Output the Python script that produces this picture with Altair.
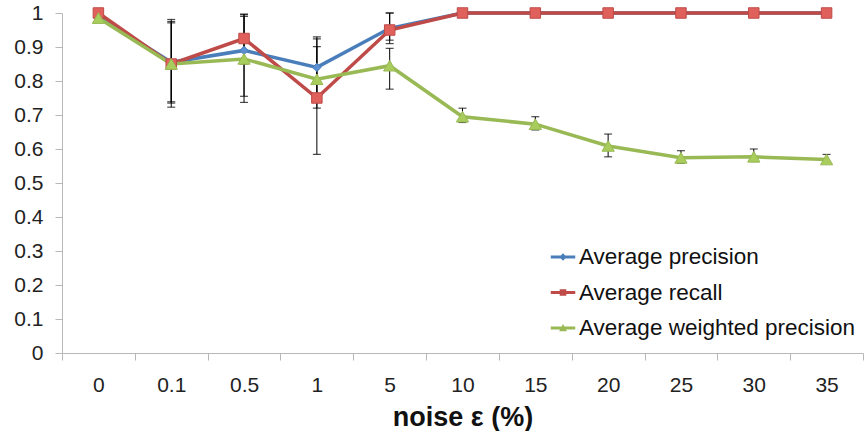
import altair as alt
import pandas as pd

# Noise levels (categories on the x axis)
noise = ["0", "0.1", "0.5", "1", "5", "10", "15", "20", "25", "30", "35"]
series = ["Average precision", "Average recall", "Average weighted precision"]

# Mean values per noise level
precision = [0.99, 0.855, 0.89, 0.84, 0.955, 1.0, 1.0, 1.0, 1.0, 1.0, 1.0]
recall = [1.0, 0.85, 0.925, 0.75, 0.95, 1.0, 1.0, 1.0, 1.0, 1.0, 1.0]
weighted = [0.985, 0.85, 0.865, 0.805, 0.845, 0.695, 0.673, 0.609, 0.574, 0.577, 0.569]

# Error bar extents (None = no bar)
precision_lo = [None, 0.739, 0.755, 0.75, 0.91, None, None, None, None, None, None]
precision_hi = [None, 0.981, 0.995, 0.93, 1.0, None, None, None, None, None, None]
recall_lo = [None, 0.723, 0.85, 0.584, 0.92, None, None, None, None, None, None]
recall_hi = [None, 0.975, 0.997, 0.924, 1.0, None, None, None, None, None, None]
weighted_lo = [None, 0.735, 0.737, 0.72, 0.776, 0.678, 0.656, 0.577, 0.558, 0.563, 0.558]
weighted_hi = [None, 0.971, 0.99, 0.901, 0.896, 0.72, 0.695, 0.644, 0.595, 0.6, 0.584]

y_ticks = [0, 0.1, 0.2, 0.3, 0.4, 0.5, 0.6, 0.7, 0.8, 0.9, 1]

line_colors = ["#4a7ebb", "#be4b48", "#98b954"]
fill_colors = ["#5b90d2", "#e0615c", "#a9cd5c"]

rows = []
err_rows = []
for name, vals, los, his in [
    (series[0], precision, precision_lo, precision_hi),
    (series[1], recall, recall_lo, recall_hi),
    (series[2], weighted, weighted_lo, weighted_hi),
]:
    for n, v, lo, hi in zip(noise, vals, los, his):
        rows.append({"noise": n, "series": name, "value": v})
        if lo is not None:
            err_rows.append({"noise": n, "series": name, "lo": lo, "hi": hi})

df = pd.DataFrame(rows)
err = pd.DataFrame(err_rows)

x_axis = alt.Axis(
    title="noise ε (%)",
    labelAngle=0,
    tickBand="extent",
    domainColor="#b8b8b8",
    tickColor="#b8b8b8",
    tickSize=7,
    labelFontSize=21,
    labelColor="#222222",
    labelPadding=14,
    titleFontSize=27,
    titleFontWeight="bold",
    titleColor="#111111",
    titlePadding=9,
    grid=False,
)
y_axis = alt.Axis(
    title=None,
    values=y_ticks,
    format="~g",
    labelOverlap=False,
    labelBound=False,
    domainColor="#b8b8b8",
    tickColor="#b8b8b8",
    tickSize=7,
    labelFontSize=21,
    labelColor="#222222",
    labelPadding=12,
    grid=False,
)
x_scale = alt.Scale(paddingInner=0, paddingOuter=0)
y_scale = alt.Scale(domain=[0, 1], nice=False)


def xenc():
    return alt.X("noise:N", sort=noise, scale=x_scale, axis=x_axis)


def yenc(field):
    return alt.Y(field, scale=y_scale, axis=y_axis)


lines = alt.Chart(df).mark_line(strokeWidth=3.5).encode(
    x=xenc(),
    y=yenc("value:Q"),
    color=alt.Color("series:N", scale=alt.Scale(domain=series, range=line_colors), legend=None),
    detail="series:N",
)

bars = alt.Chart(err).mark_rule(color="black", strokeWidth=1).encode(
    x=xenc(), y=yenc("lo:Q"), y2="hi:Q"
)
caps_lo = alt.Chart(err).mark_tick(color="black", thickness=1.2, size=8).encode(
    x=xenc(), y=yenc("lo:Q")
)
caps_hi = alt.Chart(err).mark_tick(color="black", thickness=1.2, size=8).encode(
    x=xenc(), y=yenc("hi:Q")
)

points = alt.Chart(df).mark_point(filled=True, opacity=1, strokeWidth=1).encode(
    x=xenc(),
    y=yenc("value:Q"),
    fill=alt.Fill("series:N", scale=alt.Scale(domain=series, range=fill_colors), legend=None),
    stroke=alt.Stroke("series:N", scale=alt.Scale(domain=series, range=line_colors), legend=None),
    shape=alt.Shape(
        "series:N",
        scale=alt.Scale(domain=series, range=["diamond", "square", "triangle-up"]),
        legend=None,
    ),
    size=alt.Size(
        "series:N",
        scale=alt.Scale(domain=series, range=[70, 150, 100]),
        legend=None,
    ),
)

# Legend symbols: a short line with the series marker in the middle
bar_path = "M-1,-0.12H1V0.12H-1Z"
legend_paths = [
    bar_path + "M0,-0.3L0.3,0L0,0.3L-0.3,0Z",
    bar_path + "M-0.27,-0.27H0.27V0.27H-0.27Z",
    bar_path + "M0,-0.32L0.32,0.26H-0.32Z",
]
legend_layer = (
    alt.Chart(df)
    .transform_filter("false")
    .mark_point(filled=True, opacity=1)
    .encode(
        x=xenc(),
        y=yenc("value:Q"),
        color=alt.Color(
            "series:N",
            scale=alt.Scale(domain=series, range=line_colors),
            legend=alt.Legend(
                title=None,
                orient="none",
                legendX=488,
                legendY=231,
                labelFontSize=22.5,
                labelColor="#111111",
                labelLimit=400,
                symbolSize=600,
                rowPadding=10.5,
                labelOffset=3,
            ),
        ),
        shape=alt.Shape(
            "series:N",
            scale=alt.Scale(domain=series, range=legend_paths),
        ),
    )
)

chart = (
    alt.layer(lines, bars, caps_lo, caps_hi, points, legend_layer)
    .resolve_scale(color="independent", shape="independent")
    .properties(
        width=801,
        height=340,
        autosize=alt.AutoSizeParams(type="none"),
        padding={"left": 62, "top": 13, "right": 2, "bottom": 78},
        background="white",
    )
    .configure(font="Liberation Sans")
    .configure_view(stroke=None)
)

chart.save("out.html", embed_options={"renderer": "svg", "actions": False})
